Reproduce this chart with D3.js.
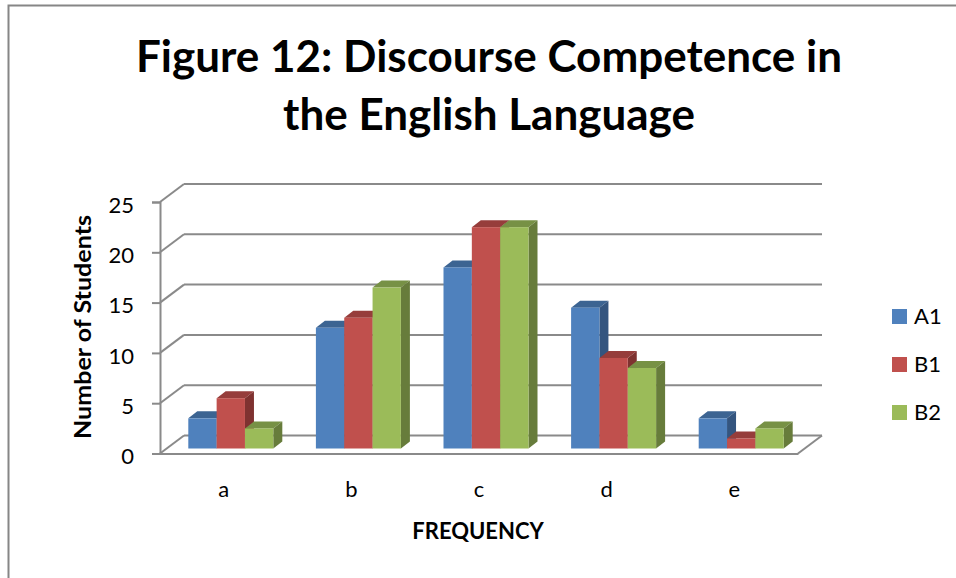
<!DOCTYPE html>
<html>
<head>
<meta charset="utf-8">
<script src="https://cdn.jsdelivr.net/npm/d3@7"></script>
<style>
    body { margin: 0; background: #fff; }
    text { font-family: Lato, "Open Sans", sans-serif; fill: #000; }
    .grid { stroke: #8a8a8a; stroke-width: 2; fill: none; }
</style>
</head>
<body>
<div id="chart"></div>
<script>
const categories = ['a', 'b', 'c', 'd', 'e'];
const seriesNames = ['A1', 'B1', 'B2'];
const a1 = [3, 12, 18, 14, 3];
const b1 = [5, 13, 22, 9, 1];
const b2 = [2, 16, 22, 8, 2];
const yTicks = [0, 5, 10, 15, 20, 25];
const titleLines = ['Figure 12: Discourse Competence in', 'the English Language'];

const c_width = 956;
const c_height = 578;
const seriesValues = [a1, b1, b2];
const front = ['#4f81bd', '#c0504d', '#9bbb59'];
const top_ = ['#3c6492', '#963d3b', '#779145'];
const side = ['#34557f', '#7f3230', '#677c3b'];

// 3d wall offset and bar depth
const wallX = 24, wallY = -18;
const depthX = 9, depthY = -7;
const barShiftX = 7, barShiftY = -5;

const svg = d3.select('#chart').append('svg')
    .attr('width', c_width)
    .attr('height', c_height);

// frame runs off the right and bottom of the picture
svg.append('path')
    .attr('d', `M8.5,${c_height} V5.5 H${c_width}`)
    .attr('fill', 'none')
    .attr('stroke', '#868686')
    .attr('stroke-width', 2);

const x = d3.scaleBand().domain(categories).range([160, 798]);
const y = d3.scaleLinear().domain([0, 25]).range([453.5, 202]);
const xSeries = d3.scaleBand().domain(seriesNames).range([0, 85]);

svg.append('g').selectAll('text')
    .data(titleLines)
    .enter()
    .append('text')
    .attr('x', 489)
    .attr('y', (d, i) => 72 + i * 58)
    .attr('text-anchor', 'middle')
    .attr('font-size', 44)
    .attr('font-weight', 700)
    .text(d => d);

// walls
const walls = svg.append('g');
yTicks.forEach(v => {
    walls.append('line').attr('class', 'grid')
        .attr('x1', x.range()[0] + wallX).attr('x2', x.range()[1] + wallX)
        .attr('y1', y(v) + wallY).attr('y2', y(v) + wallY);
    walls.append('line').attr('class', 'grid')
        .attr('x1', x.range()[0]).attr('x2', x.range()[0] + wallX)
        .attr('y1', y(v)).attr('y2', y(v) + wallY);
});
walls.append('line').attr('class', 'grid')
    .attr('x1', x.range()[1]).attr('x2', x.range()[1] + wallX)
    .attr('y1', y(0)).attr('y2', y(0) + wallY);

// bars, left to right so each front covers the side of the one before
categories.forEach((c, ci) => {
    const g = svg.append('g');
    seriesNames.forEach((s, si) => {
        const v = seriesValues[si][ci];
        const x0 = x(c) + (x.bandwidth() - xSeries.range()[1]) / 2 + xSeries(s) + barShiftX;
        const x1 = x0 + xSeries.bandwidth();
        const yb = y(0) + barShiftY;
        const yt = y(v) + barShiftY;
        g.append('path')
            .attr('fill', top_[si])
            .attr('d', `M${x0},${yt} L${x0 + depthX},${yt + depthY} H${x1 + depthX} L${x1},${yt} Z`);
        g.append('path')
            .attr('fill', side[si])
            .attr('d', `M${x1},${yt} L${x1 + depthX},${yt + depthY} V${yb + depthY} L${x1},${yb} Z`);
        g.append('rect')
            .attr('fill', front[si])
            .attr('x', x0)
            .attr('y', yt)
            .attr('width', xSeries.bandwidth())
            .attr('height', yb - yt);
    });
});

// front axes
const yAxis = svg.append('g')
    .attr('transform', `translate(${x.range()[0]},0)`)
    .call(d3.axisLeft(y).tickValues(yTicks).tickSize(8).tickPadding(18));
yAxis.selectAll('path, line').attr('stroke', '#8a8a8a').attr('stroke-width', 2);
yAxis.selectAll('text').attr('font-size', 22).attr('dy', '0.46em');

const xAxis = svg.append('g')
    .attr('transform', `translate(0,${y(0)})`)
    .call(d3.axisBottom(x).tickSize(0).tickPadding(28));
xAxis.select('path').attr('stroke', '#8a8a8a').attr('stroke-width', 2);
xAxis.selectAll('text').attr('font-size', 22);

// the original is stretched along the axis, hence the scale
svg.append('text')
    .attr('transform', 'translate(91,327) rotate(-90) scale(1.12,1)')
    .attr('text-anchor', 'middle')
    .attr('font-size', 22.4)
    .attr('font-weight', 700)
    .text('Number of Students');

svg.append('text')
    .attr('x', 478)
    .attr('y', 539)
    .attr('text-anchor', 'middle')
    .attr('font-size', 22)
    .attr('font-weight', 700)
    .text('FREQUENCY');

const legend = svg.append('g').selectAll('g')
    .data(seriesNames)
    .enter()
    .append('g')
    .attr('transform', (d, i) => `translate(892,${309 + i * 48})`);
legend.append('rect')
    .attr('width', 15)
    .attr('height', 15)
    .attr('fill', (d, i) => front[i]);
legend.append('text')
    .attr('x', 22)
    .attr('y', 15)
    .attr('font-size', 22)
    .text(d => d);
</script>
</body>
</html>
